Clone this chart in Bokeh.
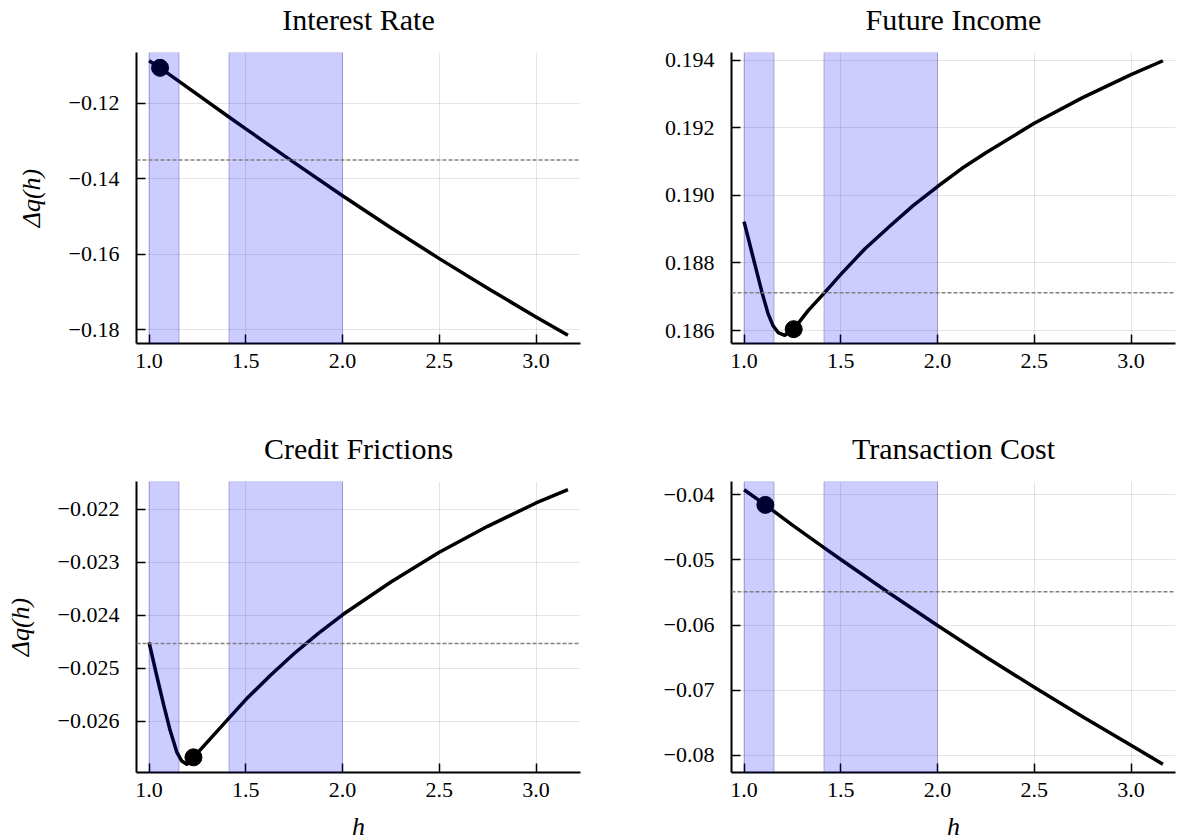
from bokeh.plotting import figure
from bokeh.layouts import column, row
from bokeh.models import (BoxAnnotation, Span, FixedTicker, CustomJSTickFormatter,
                          Range1d, Title)
from bokeh.embed import file_html
from bokeh.resources import INLINE

# ---- data -------------------------------------------------------------
titles = ["Interest Rate", "Future Income", "Credit Frictions", "Transaction Cost"]

h_ir = [1.0, 1.0568, 1.155, 1.413, 1.5, 1.75, 2.0, 2.25, 2.5, 2.75, 3.0, 3.165]
dq_ir = [-0.1087, -0.11059, -0.11419, -0.12363, -0.12676, -0.13571, -0.14451,
         -0.15301, -0.16118, -0.16906, -0.17664, -0.18151]
mark_ir = (1.0568, -0.11059)
ref_ir = -0.13505

h_fi = [1.0, 1.038, 1.093, 1.124, 1.150, 1.176, 1.21, 1.2565, 1.33, 1.4165, 1.5,
        1.625, 1.75, 1.875, 2.0, 2.125, 2.25, 2.5, 2.75, 3.0, 3.165]
dq_fi = [0.18922, 0.18836, 0.18712, 0.18650, 0.18614, 0.18594, 0.18586, 0.18604,
         0.18658, 0.18712, 0.18766, 0.18842, 0.18907, 0.18970, 0.19026, 0.19079,
         0.19126, 0.19213, 0.19289, 0.19357, 0.19398]
mark_fi = (1.2565, 0.18604)
ref_fi = 0.18712

h_cf = [1.0, 1.0397, 1.0742, 1.1087, 1.1432, 1.1691, 1.195, 1.2295, 1.316, 1.4107,
        1.5, 1.625, 1.75, 1.875, 2.0, 2.25, 2.5, 2.75, 3.0, 3.165]
dq_cf = [-0.02451, -0.02514, -0.02567, -0.02617, -0.02658, -0.02675, -0.02681,
         -0.02668, -0.02633, -0.02595, -0.02559, -0.02514, -0.02472, -0.02434,
         -0.02399, -0.02337, -0.02281, -0.02232, -0.02188, -0.02163]
mark_cf = (1.2295, -0.02668)
ref_cf = -0.02453

h_tc = [1.0, 1.110, 1.25, 1.4165, 1.5, 1.75, 2.0, 2.25, 2.5, 2.75, 3.0, 3.165]
dq_tc = [-0.0392, -0.04153, -0.04465, -0.04818, -0.04993, -0.05508, -0.06008,
         -0.06491, -0.06956, -0.07409, -0.07849, -0.08140]
mark_tc = (1.110, -0.04153)
ref_tc = -0.05489

band_lo = [1.0, 1.413]
band_hi = [1.155, 2.0]

x_ticks = [1.0, 1.5, 2.0, 2.5, 3.0]
yt_ir = [-0.18, -0.16, -0.14, -0.12]
yt_fi = [0.186, 0.188, 0.190, 0.192, 0.194]
yt_cf = [-0.026, -0.025, -0.024, -0.023, -0.022]
yt_tc = [-0.08, -0.07, -0.06, -0.05, -0.04]

# ---- styling ----------------------------------------------------------
FONT = "Liberation Serif"
FRAME_W, FRAME_H = 444, 291


def fmt(digits):
    return CustomJSTickFormatter(
        args=dict(d=digits),
        code="return tick.toFixed(d).replace('-', '\u2212');")


def style_axis(ax, ticks, digits, label, label_standoff, tick_standoff):
    ax.ticker = FixedTicker(ticks=ticks)
    ax.formatter = fmt(digits)
    ax.axis_line_width = 2
    ax.axis_line_color = "black"
    ax.major_tick_in = 9
    ax.major_tick_out = 0
    ax.major_tick_line_width = 1.5
    ax.major_tick_line_color = "black"
    ax.minor_tick_in = 0
    ax.minor_tick_out = 0
    ax.major_label_text_font = FONT
    ax.major_label_text_font_size = "22px"
    ax.major_label_text_font_style = "normal"
    ax.major_label_text_color = "black"
    ax.major_label_standoff = tick_standoff
    if label:
        ax.axis_label = label
        ax.axis_label_text_font = FONT
        ax.axis_label_text_font_size = "26px"
        ax.axis_label_text_font_style = "italic"
        ax.axis_label_text_color = "black"
        ax.axis_label_text_line_height = 0.7
        ax.axis_label_standoff = label_standoff


def panel(title, h, dq, mark, ref, yticks, ydig, left, right, top, bottom,
          ylabel=None, xlabel=None):
    span_x = max(h) - min(h)
    span_y = max(dq) - min(dq)
    p = figure(frame_width=FRAME_W, frame_height=FRAME_H,
               x_range=Range1d(min(h) - 0.03 * span_x, max(h) + 0.03 * span_x),
               y_range=Range1d(min(dq) - 0.03 * span_y, max(dq) + 0.03 * span_y),
               min_border_left=left, min_border_right=right,
               min_border_top=top, min_border_bottom=bottom,
               output_backend="svg", toolbar_location=None,
               background_fill_color="white", border_fill_color="white")
    p.outline_line_color = None

    # blank band between the frame and the title
    p.add_layout(Title(text=" ", text_font=FONT, text_font_size="14px",
                       standoff=0), "above")
    p.title.text = title
    p.title.text_font = FONT
    p.title.text_font_size = "30px"
    p.title.text_font_style = "normal"
    p.title.text_color = "black"
    p.title.align = "center"
    p.title.standoff = 0

    style_axis(p.below[0], x_ticks, 1, xlabel, 12, 10)
    style_axis(p.left[0], yticks, ydig, ylabel, 20, 17)

    for g in (p.xgrid, p.ygrid):
        g.grid_line_color = "black"
        g.grid_line_alpha = 0.1
        g.grid_line_width = 1

    p.line(h, dq, line_color="black", line_width=3.5, line_join="round")
    p.scatter([mark[0]], [mark[1]], size=17, fill_color="black",
              line_color="black")

    for lo, hi in zip(band_lo, band_hi):
        p.add_layout(BoxAnnotation(left=lo, right=hi, fill_color="blue",
                                   fill_alpha=0.2, line_color="#000080",
                                   line_alpha=0.25, line_width=1))
    p.add_layout(Span(location=ref, dimension="width", line_color="#808080",
                      line_dash="4 2", line_width=1.5))
    return p


p1 = panel(titles[0], h_ir, dq_ir, mark_ir, ref_ir, yt_ir, 2,
           136, 10, 52, 77, ylabel="Δq(h)")
p2 = panel(titles[1], h_fi, dq_fi, mark_fi, ref_fi, yt_fi, 3,
           141, 2, 52, 77)
p3 = panel(titles[2], h_cf, dq_cf, mark_cf, ref_cf, yt_cf, 3,
           136, 10, 61, 67, ylabel="Δq(h)", xlabel="h")
p4 = panel(titles[3], h_tc, dq_tc, mark_tc, ref_tc, yt_tc, 2,
           141, 2, 61, 67, xlabel="h")

layout = column(row(p1, p2), row(p3, p4))
open("out.html", "w").write(file_html(layout, INLINE))
